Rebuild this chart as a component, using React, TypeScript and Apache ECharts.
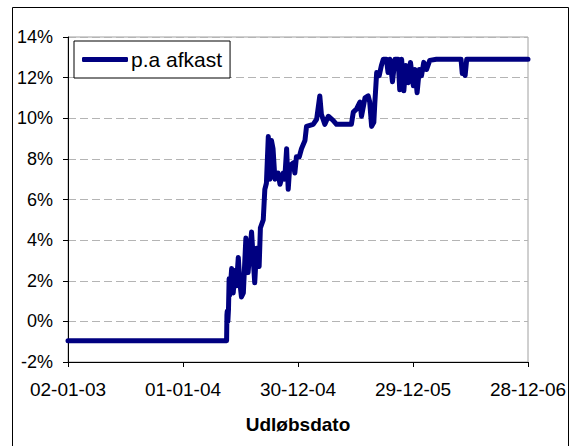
import React, { useEffect, useRef } from "react";
import * as echarts from "echarts";

const seriesName = "p.a afkast";
const xAxisTitle = "Udløbsdato";

const xTickDates = ["2003-01-02", "2004-01-01", "2004-12-30", "2005-12-29", "2006-12-28"];

const yMin = -2;
const yMax = 14;
const yStep = 2;

const dates = [
  "2003-01-02", "2004-05-18", "2004-05-19", "2004-05-20", "2004-05-22", "2004-05-24",
  "2004-05-26", "2004-05-28", "2004-06-03", "2004-06-08", "2004-06-13", "2004-06-18",
  "2004-06-24", "2004-06-29", "2004-07-04", "2004-07-10", "2004-07-18", "2004-07-25",
  "2004-08-05", "2004-08-15", "2004-08-21", "2004-08-29", "2004-09-02", "2004-09-11",
  "2004-09-16", "2004-09-21", "2004-09-27", "2004-10-02", "2004-10-07", "2004-10-12",
  "2004-10-18", "2004-10-28", "2004-11-03", "2004-11-13", "2004-11-18", "2004-11-24",
  "2004-11-29", "2004-12-04", "2004-12-15", "2004-12-20", "2004-12-25", "2005-01-03",
  "2005-01-10", "2005-01-21", "2005-01-26", "2005-02-16", "2005-02-27", "2005-03-09",
  "2005-03-14", "2005-03-25", "2005-04-05", "2005-04-20", "2005-05-01", "2005-06-17",
  "2005-06-23", "2005-07-03", "2005-07-14", "2005-07-19", "2005-07-30", "2005-08-09",
  "2005-08-14", "2005-08-20", "2005-08-27", "2005-08-30", "2005-09-05", "2005-09-13",
  "2005-09-20", "2005-09-26", "2005-10-06", "2005-10-11", "2005-10-17", "2005-10-25",
  "2005-11-02", "2005-11-12", "2005-11-17", "2005-11-23", "2005-11-30", "2005-12-06",
  "2005-12-14", "2005-12-21", "2005-12-30", "2006-01-04", "2006-01-11", "2006-01-18",
  "2006-01-25", "2006-02-01", "2006-02-10", "2006-02-20", "2006-03-13", "2006-05-30",
  "2006-06-03", "2006-06-08", "2006-06-12", "2006-06-17", "2006-12-28",
];

const values = [
  -0.95, -0.95, 0.3, 0.5, 0.0, 0.6,
  2.1, 1.3, 2.6, 1.4, 2.5, 1.75,
  3.15, 1.9, 1.2, 1.4, 4.1, 2.4,
  4.4, 1.9, 3.6, 2.7, 4.6, 5.0,
  6.5, 6.8, 9.1, 7.0, 8.9, 8.5,
  7.0, 7.3, 6.75, 7.3, 7.0, 8.5,
  6.5, 7.65, 7.8, 7.3, 8.1, 8.1,
  8.5, 8.9, 9.6, 9.7, 9.95, 11.1,
  10.2, 9.7, 10.1, 9.9, 9.7, 9.7,
  10.3, 10.45, 10.8, 10.1, 11.0, 11.1,
  10.8, 9.6, 9.8, 10.7, 12.25, 12.1,
  12.6, 12.9, 12.9, 12.25, 12.9, 11.8,
  12.9, 12.9, 11.4, 12.9, 11.35, 12.6,
  11.75, 12.75, 11.6, 12.4, 11.25, 12.4,
  12.1, 12.75, 12.4, 12.85, 12.9, 12.9,
  12.2, 12.5, 12.1, 12.9, 12.9,
];

function toTs(s: string): number {
  const [y, m, d] = s.split("-").map(Number);
  return Date.UTC(y, m - 1, d);
}

function fmt(v: number): string {
  const dt = new Date(v);
  const dd = String(dt.getUTCDate()).padStart(2, "0");
  const mm = String(dt.getUTCMonth() + 1).padStart(2, "0");
  const yy = String(dt.getUTCFullYear() % 100).padStart(2, "0");
  return `${dd}-${mm}-${yy}`;
}

const FONT = "'Liberation Sans', Arial, sans-serif";

export default function App() {
  const ref = useRef<HTMLDivElement>(null);
  useEffect(() => {
    if (!ref.current) return;
    const chart = echarts.init(ref.current, undefined, { renderer: "svg" });
    const ticks = xTickDates.map(toTs);
    const data = dates.map((d, i) => [toTs(d), values[i]]);
    chart.setOption({
      animation: false,
      backgroundColor: "#ffffff",
      textStyle: { fontFamily: FONT },
      graphic: [
        {
          type: "rect",
          shape: { x: 12.5, y: 7.5, width: 556, height: 470 },
          style: { fill: "none", stroke: "#000000", lineWidth: 1 },
          silent: true,
          z: -1,
        },
      ],
      grid: {
        left: 68,
        right: 43,
        top: 37,
        bottom: 84,
        show: true,
        borderColor: "#a0a0a0",
        borderWidth: 1,
        backgroundColor: "transparent",
        outerBoundsMode: "none",
      },
      legend: {
        left: 74,
        top: 41,
        orient: "horizontal",
        padding: [8, 8, 8, 8],
        backgroundColor: "#ffffff",
        borderColor: "#000000",
        borderWidth: 1,
        borderRadius: 0,
        icon: "roundRect",
        itemWidth: 46,
        itemHeight: 5,
        itemStyle: { color: "#000080", borderRadius: 2.5 },
        textStyle: { fontFamily: FONT, fontSize: 21, color: "#000000", padding: [0, 0, 0, -2] },
        data: [seriesName],
      },
      xAxis: {
        type: "value",
        min: ticks[0],
        max: ticks[ticks.length - 1],
        name: xAxisTitle,
        nameLocation: "middle",
        nameGap: 53,
        nameTextStyle: { fontFamily: FONT, fontSize: 19, fontWeight: "bold", color: "#000000" },
        axisLine: { show: true, onZero: false, lineStyle: { color: "#000000", width: 1 } },
        axisTick: { show: true, length: 5, inside: false, customValues: ticks, lineStyle: { color: "#000000" } },
        axisLabel: {
          customValues: ticks,
          formatter: (v: number) => fmt(v),
          fontFamily: FONT,
          fontSize: 19,
          color: "#000000",
          margin: 18,
          showMinLabel: true,
          showMaxLabel: true,
          hideOverlap: false,
        },
        splitLine: { show: false },
      },
      yAxis: {
        type: "value",
        min: yMin,
        max: yMax,
        interval: yStep,
        axisLine: { show: true, onZero: false, lineStyle: { color: "#000000", width: 1 } },
        axisTick: { show: true, length: 5, inside: false, lineStyle: { color: "#000000" } },
        axisLabel: {
          formatter: "{value}%",
          fontFamily: FONT,
          fontSize: 18,
          color: "#000000",
          margin: 15,
        },
        splitLine: { show: true, lineStyle: { color: "#b4b4b4", type: [8, 4], width: 1 } },
      },
      series: [
        {
          name: seriesName,
          type: "line",
          data,
          symbol: "none",
          showSymbol: false,
          color: "#000080",
          lineStyle: { color: "#000080", width: 5, join: "round", cap: "round" },
        },
      ],
    });
    return () => chart.dispose();
  }, []);
  return (
    <div
      ref={ref}
      style={{ position: "fixed", left: 0, top: 0, width: 571, height: 446 }}
    />
  );
}
